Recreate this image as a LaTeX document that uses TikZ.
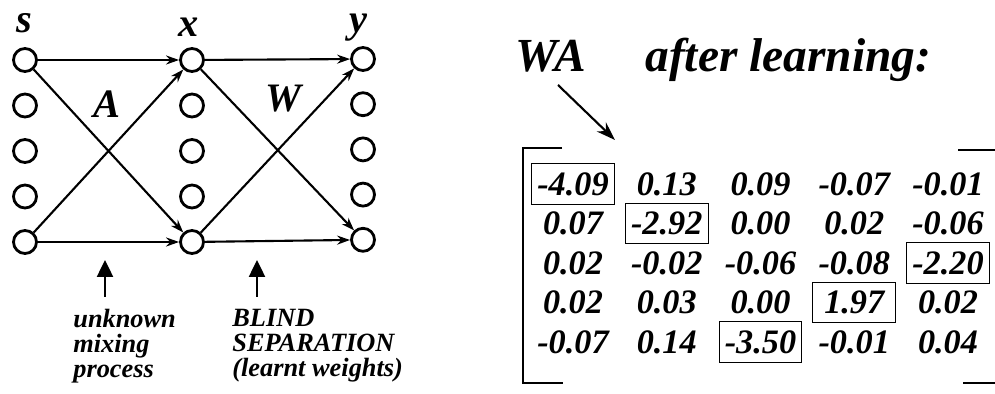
\documentclass[tikz,border=0pt]{standalone}
\usepackage{fontspec}
\setmainfont{Liberation Serif}
\usetikzlibrary{arrows.meta}

\begin{document}
\begin{tikzpicture}[x=0.02cm, y=-0.02cm,
    neuron/.style={circle, draw, line width=1.6pt, minimum size=0.46cm, inner sep=0pt},
    link/.style={-{Stealth[length=0.26cm, width=0.18cm]}, line width=1.2pt},
    uparrow/.style={-{Triangle[length=0.34cm, width=0.32cm]}, line width=1.4pt},
    layername/.style={font=\bfseries\itshape\fontsize{23}{24}\selectfont, anchor=base},
    matname/.style={font=\bfseries\itshape\fontsize{23}{24}\selectfont},
    caption/.style={font=\bfseries\itshape\fontsize{15}{14.4}\selectfont, align=left, anchor=base west, inner sep=0pt},
    title/.style={font=\bfseries\itshape\fontsize{27}{30}\selectfont, anchor=base west, inner sep=0pt},
    entry/.style={font=\bfseries\itshape\fontsize{19.5}{22}\selectfont, minimum width=1.64cm, minimum height=0.8cm, inner sep=0pt},
    picked/.style={line width=0.6pt}]
    \useasboundingbox (0,0) rectangle (995,394);

    % Neuroni
    \foreach \i in {1,...,5} {
        \node[neuron] (s\i) at (25, {60+45.5*(\i-1)}) {};
        \node[neuron] (x\i) at (192, {60+45.5*(\i-1)}) {};
        \node[neuron] (y\i) at (363, {59+45.2*(\i-1)}) {};
    }
    \node[layername] (slab) at (24,33) {s};
    \node[layername] (xlab) at (189,37) {x};
    \node[layername] (ylab) at (358,33) {y};

    % Connessioni
    \draw[link] (s1) -- (x1);
    \draw[link] (s1) -- (x5);
    \draw[link] (s5) -- (x1);
    \draw[link] (s5) -- (x5);
    \draw[link] (x1) -- (y1);
    \draw[link] (x1) -- (y5);
    \draw[link] (x5) -- (y1);
    \draw[link] (x5) -- (y5);
    \node[matname] (amat) at (107,104) {A};
    \node[matname] (wmat) at (283,99) {W};

    % Didascalie
    \draw[uparrow] (105,297) coordinate (mixbase) -- (105,260) coordinate (mixtip);
    \draw[uparrow] (257,297) coordinate (sepbase) -- (257,260) coordinate (septip);
    \node[caption] (mixing) at (73,378) {unknown\\mixing\\process};
    \node[caption] (blind) at (232,377) {BLIND\\SEPARATION\\(learnt weights)};

    % Matrice WA
    \node[title] (wa) at (515,72) {WA};
    \node[title] (after) at (645,72) {after learning:};
    \coordinate (wastart) at (558,85);
    \coordinate (waend) at (615,140);
    \draw[-{Stealth[length=0.38cm, width=0.26cm]}, line width=1.2pt] (wastart) -- (waend);

    \foreach \row [count=\r] in {{-4.09,0.13,0.09,-0.07,-0.01},
                                {0.07,-2.92,0.00,0.02,-0.06},
                                {0.02,-0.02,-0.06,-0.08,-2.20},
                                {0.02,0.03,0.00,1.97,0.02},
                                {-0.07,0.14,-3.50,-0.01,0.04}} {
        \foreach \val [count=\c] in \row {
            \node[entry] (m-\r-\c) at ({573+93.75*(\c-1)}, {184+39.5*(\r-1)}) {\val};
        }
    }
    % elementi dominanti
    \foreach \r/\c in {1/1, 2/2, 3/5, 4/4, 5/3}
        \draw[picked] (m-\r-\c.south west) rectangle (m-\r-\c.north east);

    % Parentesi
    \draw[line width=1pt] (562,148) -- (523,148) -- (523,383) -- (563,383);
    \draw[line width=1pt] (958,150) -- (995,150);
    \draw[line width=1pt] (963,383) -- (995,383);
\end{tikzpicture}
\end{document}
